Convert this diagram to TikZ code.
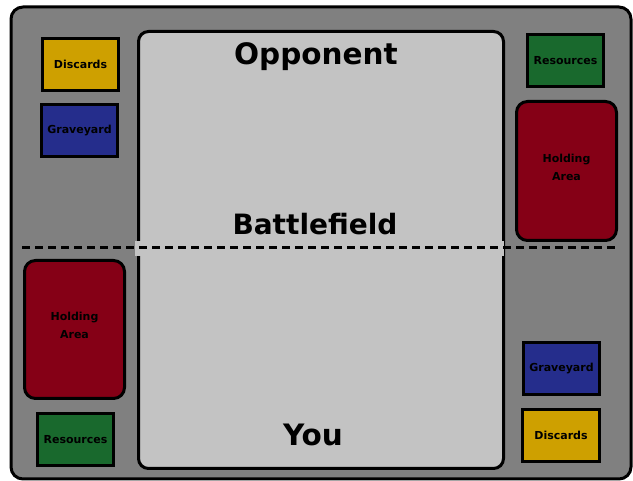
\documentclass[tikz,border=0pt]{standalone}
\usepackage{fontspec}
\newfontfamily\heavy{DejaVu Sans}[BoldFont={DejaVu Sans Bold}]
\definecolor{board}{RGB}{128,128,128}
\definecolor{field}{RGB}{195,195,195}
\definecolor{dyellow}{RGB}{206,160,0}
\definecolor{dblue}{RGB}{37,45,140}
\definecolor{dgreen}{RGB}{25,105,45}
\definecolor{dred}{RGB}{133,0,22}
\tikzset{
  pile/.style={draw=black, line width=3pt, anchor=north west, inner sep=0pt,
    font=\heavy\bfseries\fontsize{11}{18}\selectfont, align=center},
  hold/.style={pile, rounded corners=11pt, fill=dred},
  title/.style={font=\heavy\bfseries\fontsize{29.5}{32}\selectfont, inner sep=0pt}
}
\begin{document}
\begin{tikzpicture}[x=1pt,y=-1pt]
\useasboundingbox (0,0) rectangle (633,481);
\fill[white] (0,0) rectangle (633,481);
\draw[fill=board, line width=3pt, rounded corners=12pt] (11,7) rectangle (631,479);
\node[draw=black, fill=field, line width=3pt, rounded corners=10pt, minimum width=365pt, minimum height=437pt, anchor=north west, inner sep=0pt] (bf) at (137,30) {};
\fill[field] (135,241) rectangle (504,256);
\draw[line width=3pt, dash pattern=on 8pt off 5pt] (22,248) -- (617,248);
\node[title] (opp) at (316,57) {Opponent};
\node[title, font=\heavy\bfseries\fontsize{28}{30}\selectfont] (bat) at (315,224) {Battlefield};
\node[title] (you) at (313,435) {You};
\node[pile, fill=dyellow, minimum width=76pt, minimum height=52pt] (disL) at (41,37) {Discards};
\node[pile, fill=dblue, minimum width=76pt, minimum height=52pt] (grvL) at (40,103) {Graveyard};
\node[pile, fill=dgreen, minimum width=76pt, minimum height=52pt] (resR) at (526,33) {Resources};
\node[hold, minimum width=100pt, minimum height=139pt] (holdR) at (515,100) {Holding\\Area\\[-10pt]\mbox{}};
\node[hold, minimum width=100pt, minimum height=138pt] (holdL) at (23,259) {Holding\\Area\\[-10pt]\mbox{}};
\node[pile, fill=dgreen, minimum width=76pt, minimum height=52pt] (resL) at (36,412) {Resources};
\node[pile, fill=dblue, minimum width=76pt, minimum height=52pt] (grvR) at (522,341) {Graveyard};
\node[pile, fill=dyellow, minimum width=77pt, minimum height=52pt] (disR) at (521,408) {Discards};
\end{tikzpicture}
\end{document}
